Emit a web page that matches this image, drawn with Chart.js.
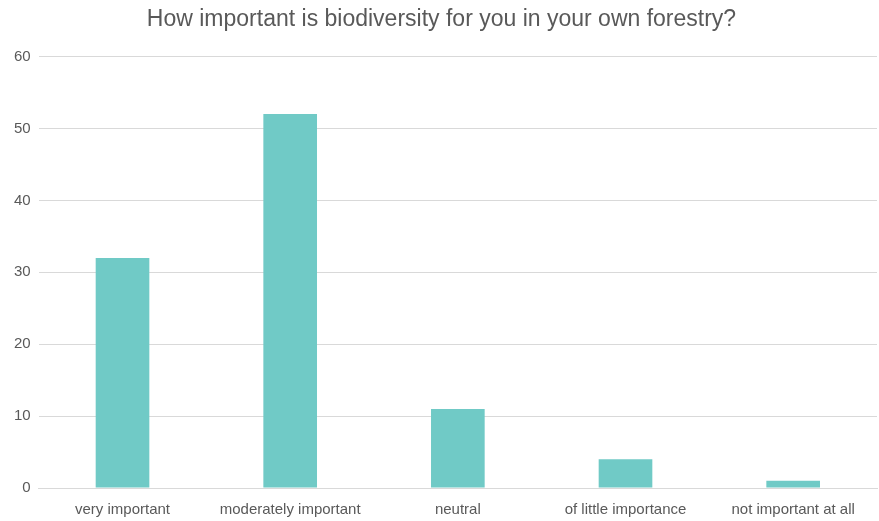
<!DOCTYPE html>
<html>
<head>
<meta charset="utf-8">
<script src="https://cdn.jsdelivr.net/npm/chart.js@4/dist/chart.umd.min.js"></script>
<style>
    html, body { margin: 0; padding: 0; background: #fff; }
    #wrap { width: 879px; height: 521px; }
</style>
</head>
<body>
<div id="wrap"><canvas id="chart"></canvas></div>
<script>
// 数据
const categories = ['very important', 'moderately important', 'neutral', 'of little importance', 'not important at all'];
const responses = [32, 52, 11, 4, 1];
const yTicks = [0, 10, 20, 30, 40, 50, 60];

const FONT = "'Liberation Sans Narrow', 'Arial Narrow', 'Liberation Sans', Arial, sans-serif";
const TEXT_COLOR = '#595959';

const ctx = document.getElementById('chart').getContext('2d');
new Chart(ctx, {
    type: 'bar',
    data: {
        labels: categories,
        datasets: [{
            label: 'responses',
            data: responses,
            backgroundColor: '#70CAC6',
            borderWidth: 0,
            barPercentage: 0.32,
            categoryPercentage: 1
        }]
    },
    options: {
        responsive: true,
        maintainAspectRatio: false,
        animation: false,
        layout: {
            padding: { left: 6, right: 2, top: 0, bottom: 0 }
        },
        plugins: {
            legend: { display: false },
            tooltip: { enabled: false },
            title: {
                display: true,
                text: 'How important is biodiversity for you in your own forestry?',
                color: TEXT_COLOR,
                font: { family: FONT, size: 23, weight: 'normal' },
                padding: { top: 6, bottom: 23 }
            }
        },
        scales: {
            y: {
                min: 0,
                max: 60,
                afterBuildTicks(axis) {
                    axis.ticks = yTicks.map(v => ({ value: v }));
                },
                grid: {
                    color: '#d9d9d9',
                    drawTicks: false
                },
                border: { display: false },
                ticks: {
                    color: TEXT_COLOR,
                    font: { family: FONT, size: 15 },
                    padding: 8
                }
            },
            x: {
                // 固定x轴高度，与原图对齐
                afterFit(axis) {
                    axis.height = 33;
                },
                grid: { display: false, drawTicks: false },
                border: { display: true, color: '#d9d9d9' },
                ticks: {
                    color: TEXT_COLOR,
                    font: { family: FONT, size: 15 },
                    padding: 13,
                    maxRotation: 0
                }
            }
        }
    }
});
</script>
</body>
</html>
